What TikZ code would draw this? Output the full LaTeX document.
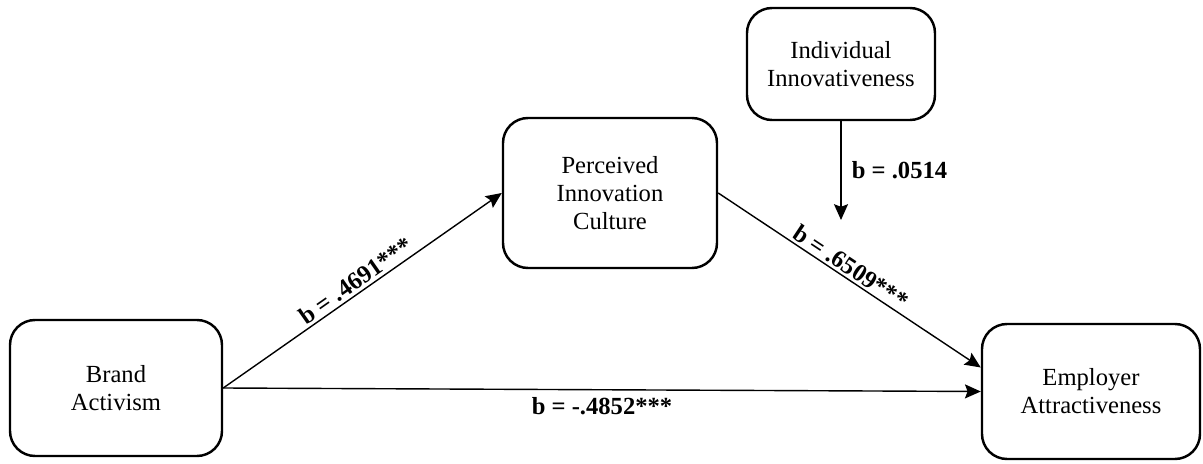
\documentclass[tikz,border=0pt]{standalone}
\usepackage{fontspec}
\setmainfont{Liberation Serif}
\usetikzlibrary{positioning,calc,arrows.meta}

\begin{document}
\begin{tikzpicture}[
	var/.style={draw, line width=1.4pt, rounded corners=0.5cm, align=center, inner sep=0.2em, font=\fontsize{14}{16}\selectfont},
	path/.style={line width=0.8pt, -{Stealth[length=9pt, width=8pt, inset=1.5pt]}},
	coef/.style={font=\fontsize{14}{16}\selectfont\bfseries, inner sep=0.15em}
]
	\useasboundingbox (0, 0) rectangle (24.06, 9.26);

	\node[var, minimum width=4.24cm, minimum height=2.72cm] (brand) at (2.32, 1.5)   {Brand\\Activism};
	\node[var, minimum width=4.28cm, minimum height=3.0cm]  (pic)   at (12.2, 5.4)   {Perceived\\Innovation\\Culture};
	\node[var, minimum width=3.76cm, minimum height=2.24cm] (indiv) at (16.82, 7.98) {Individual\\Innovativeness};
	\node[var, minimum width=4.36cm, minimum height=2.7cm]  (emp)   at (21.82, 1.43) {Employer\\Attractiveness};

	\coordinate (mod) at (16.82, 4.86);

	\draw [path] (brand.east) to node[coef, above, sloped] {b = .4691***} (pic.west);
	\draw [path] (pic.east) to node[coef, above, sloped, pos=0.48] {b = .6509***} ([yshift=0.48cm]emp.west);
	\draw [path] (brand.east) to node[coef, below=0.08cm] {b = -.4852***} (emp.west);
	\draw [path] (indiv.south) to node[coef, right=0.15cm] {b = .0514} (mod);

\end{tikzpicture}
\end{document}
